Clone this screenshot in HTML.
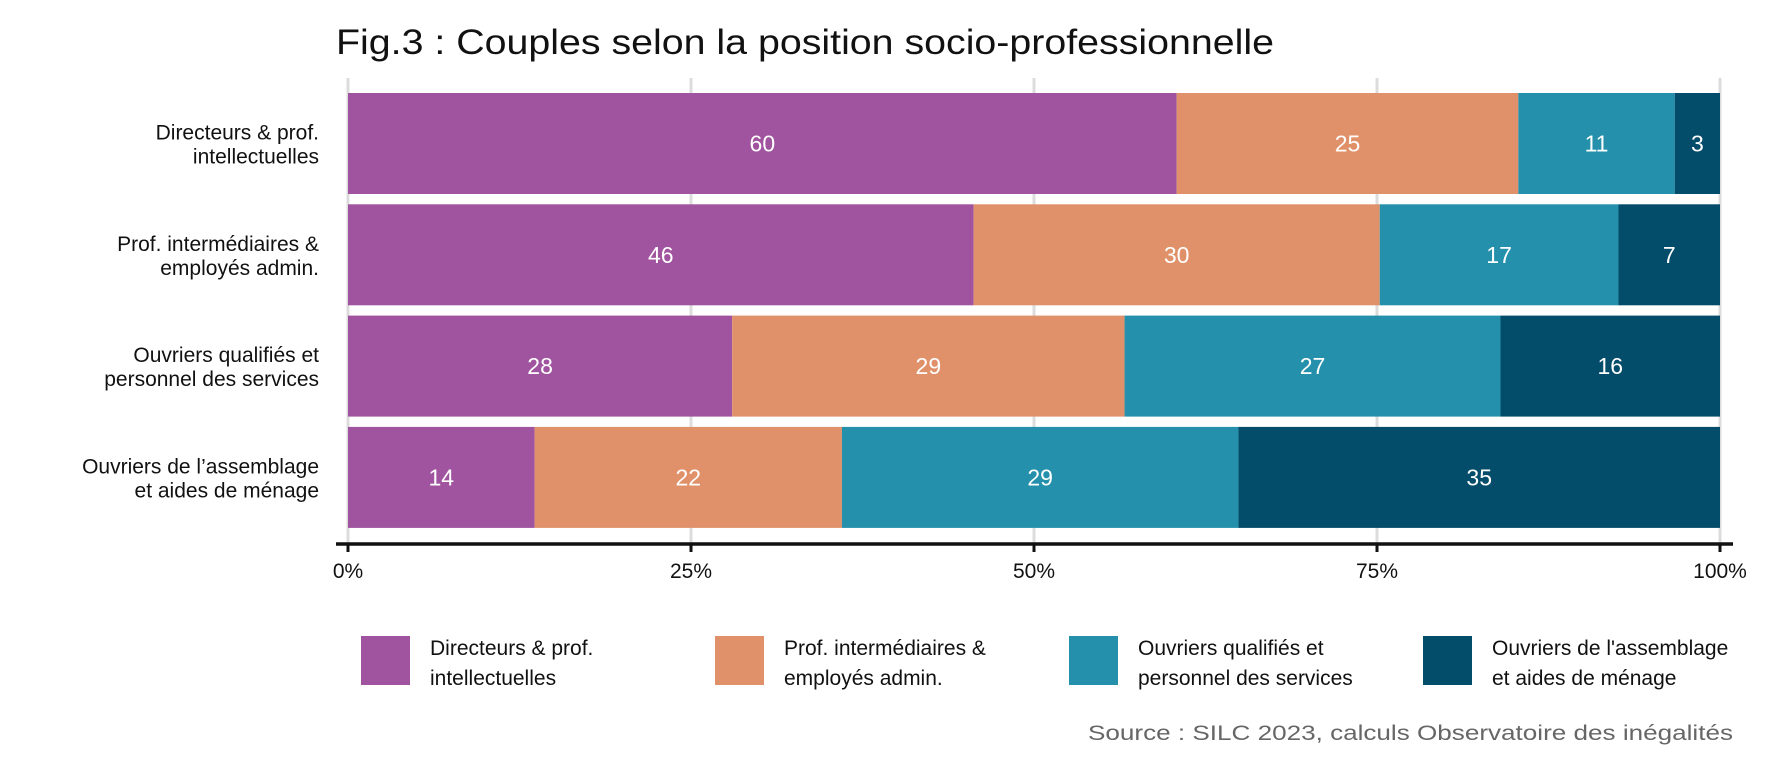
<!DOCTYPE html>
<html><head><meta charset="utf-8"><style>
body{margin:0;background:#fff;}
svg{display:block;font-family:"Liberation Sans",sans-serif;}
</style></head><body>
<svg width="1774" height="771" viewBox="0 0 1774 771">
<text x="336" y="54" font-size="35" fill="#111" textLength="938" lengthAdjust="spacingAndGlyphs">Fig.3 : Couples selon la position socio-professionnelle</text>
<g id="grid"></g>
<g id="bars"></g>
<g id="axis"></g>
<g id="legend"></g>
<text x="1733" y="740" font-size="21" fill="#666" text-anchor="end" textLength="645" lengthAdjust="spacingAndGlyphs">Source : SILC 2023, calculs Observatoire des inégalités</text>
</svg>
<script>
const categories=[["Directeurs & prof.","intellectuelles"],["Prof. intermédiaires &","employés admin."],["Ouvriers qualifiés et","personnel des services"],["Ouvriers de l’assemblage","et aides de ménage"]];
const seriesNames=[["Directeurs & prof.","intellectuelles"],["Prof. intermédiaires &","employés admin."],["Ouvriers qualifiés et","personnel des services"],["Ouvriers de l'assemblage","et aides de ménage"]];
const s1=[60.4,45.6,28.0,13.6];
const s2=[24.9,29.6,28.6,22.4];
const s3=[11.4,17.4,27.4,28.9];
const s4=[3.3,7.4,16.0,35.1];
const ticks=[0,25,50,75,100];
const tickLabels=["0%","25%","50%","75%","100%"];
const colors=["#a0539e","#e0916a","#2490ab","#034c6a"];
const NS="http://www.w3.org/2000/svg";
const X0=348,X1=1720;
const x=v=>X0+(X1-X0)*v/100;
const rowTop=i=>93+i*111.3, barH=101;
function mk(tag,attrs,parent){const e=document.createElementNS(NS,tag);for(const k in attrs)e.setAttribute(k,attrs[k]);parent.appendChild(e);return e;}
const grid=document.getElementById('grid'),bars=document.getElementById('bars'),axis=document.getElementById('axis'),legend=document.getElementById('legend');
ticks.forEach((t,i)=>{
 const g=mk('line',{x1:x(t),x2:x(t),y1:78,y2:544,stroke:'#dcdcdc','stroke-width':3},grid);
 
 
 const tk=mk('line',{x1:x(t),x2:x(t),y1:544,y2:552,stroke:'#111','stroke-width':3},axis);
 
 
 const lb=mk('text',{x:x(t),y:578,'font-size':21,'text-anchor':'middle',fill:'#111'},axis);
 lb.textContent=tickLabels[i];
 
 
});
const al=mk('line',{x1:336,x2:1733,y1:544,y2:544,stroke:'#111','stroke-width':3.5},axis);


const series=[s1,s2,s3,s4];
categories.forEach((c,i)=>{
 const top=rowTop(i);let acc=0;
 series.forEach((s,j)=>{
  const v=s[i];
  const r=mk('rect',{x:x(acc),y:top,width:x(acc+v)-x(acc),height:barH,fill:colors[j]},bars);
  
  
  const t=mk('text',{x:(x(acc)+x(acc+v))/2,y:top+barH/2+8,'font-size':23,'text-anchor':'middle',fill:'#fff'},bars);
  t.textContent=Math.round(v);
  
  
  acc+=v;
 });
 c.forEach((line,k)=>{
  const t=mk('text',{x:319,y:top+barH/2-4+k*24,'font-size':21,'text-anchor':'end',fill:'#111'},axis);
  t.textContent=line;
  
  
 });
});
seriesNames.forEach((n,j)=>{
 const lx=361+j*354;
 const sw=mk('rect',{x:lx,y:636,width:49,height:49,fill:colors[j]},legend);
 
 
 n.forEach((line,k)=>{
  const t=mk('text',{x:lx+69,y:655+k*30,'font-size':21,fill:'#111'},legend);
  t.textContent=line;
  
  
 });
});
</script>
</body></html>
